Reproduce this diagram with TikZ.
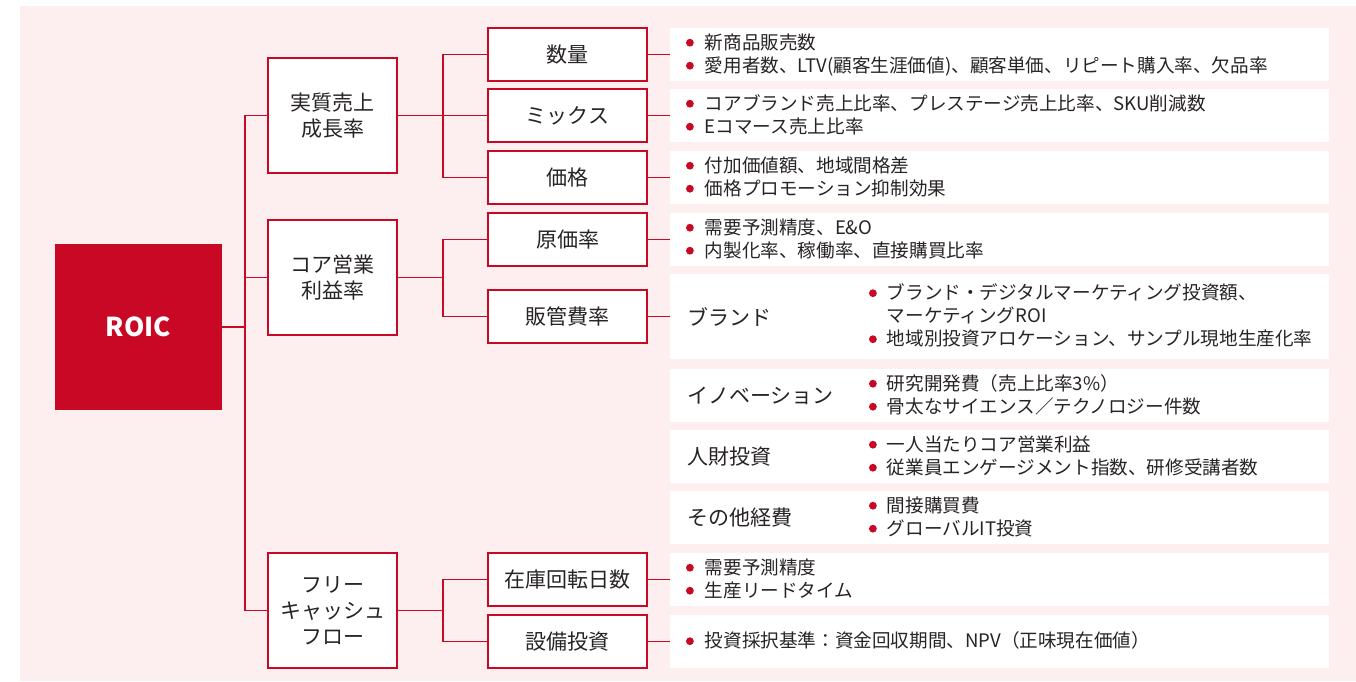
\documentclass[tikz,border=0pt]{standalone}
\usepackage{fontspec}
\setmainfont{Noto Sans CJK JP}
\usepackage{xcolor}
\usetikzlibrary{positioning,calc}
\definecolor{roicred}{RGB}{200,8,36}
\definecolor{bgpink}{RGB}{253,239,240}
\definecolor{ink}{RGB}{40,36,36}
\newcommand{\rbul}{\raisebox{2.5pt}{\tikz\fill[roicred] (0,0) circle (3.9pt);}}

\begin{document}
\begin{tikzpicture}[x=1pt, y=-1pt,
    lvlone/.style={draw=roicred, line width=1.4pt, fill=white, text=ink,
                   minimum width=129pt, minimum height=115pt, inner sep=0pt,
                   align=center, font=\fontsize{21}{26}\selectfont},
    lvltwo/.style={draw=roicred, line width=1.4pt, fill=white, text=ink,
                   minimum width=159pt, minimum height=53pt, inner sep=0pt,
                   font=\fontsize{21}{26}\selectfont},
    panel/.style={fill=white, minimum width=659pt, inner sep=0pt},
    items/.style={anchor=west, inner sep=0pt, text=ink, align=left, yshift=-1.5pt,
                  font=\fontsize{18.6}{23}\selectfont},
    tag/.style={anchor=west, inner sep=0pt, text=ink,
                font=\fontsize{21}{26}\selectfont},
    link/.style={draw=roicred, line width=1.4pt}]

    \useasboundingbox (0,0) rectangle (1356,681);
    \fill[bgpink] (20,6) rectangle (1356,681);

    % root
    \node[fill=roicred, minimum width=167pt, minimum height=166pt, inner sep=0pt,
          text=white, font=\fontsize{26}{30}\selectfont\bfseries] (roic) at (138.5,327) {ROIC};

    % first level
    \node[lvlone] (sales) at (332.5,115.5) {実質売上\\成長率};
    \node[lvlone] (core) at (332.5,277.5) {コア営業\\利益率};
    \node[lvlone] (fcf) at (332.5,610.5) {フリー\\キャッシュ\\フロー};
    \coordinate (jA) at (245,327);
    \draw[link] (roic.east) -- (jA);
    \draw[link] (sales.west) -| (jA) |- (fcf.west);
    \draw[link] (jA |- core.west) -- (core.west);

    % second level
    \node[lvltwo] (qty) at (567.5,54.5) {数量};
    \node[lvltwo] (mix) at (567.5,115.5) {ミックス};
    \node[lvltwo] (price) at (567.5,177.5) {価格};
    \node[lvltwo] (cost) at (567.5,239.5) {原価率};
    \node[lvltwo] (sga) at (567.5,316.5) {販管費率};
    \node[lvltwo] (stock) at (567.5,579.5) {在庫回転日数};
    \node[lvltwo] (capex) at (567.5,641.5) {設備投資};
    \coordinate (jB) at (443,115.5);
    \coordinate (jC) at (443,277.5);
    \coordinate (jD) at (443,610.5);
    \draw[link] (sales.east) -- (mix.west);
    \draw[link] (qty.west) -| (jB) |- (price.west);
    \draw[link] (core.east) -- (jC);
    \draw[link] (cost.west) -| (jC) |- (sga.west);
    \draw[link] (fcf.east) -- (jD);
    \draw[link] (stock.west) -| (jD) |- (capex.west);

    % indicator panels
    \node[panel, minimum height=53pt] (pnl1) at (999.5,54.5) {};
    \node[panel, minimum height=53pt] (pnl2) at (999.5,115.5) {};
    \node[panel, minimum height=53pt] (pnl3) at (999.5,177.5) {};
    \node[panel, minimum height=53pt] (pnl4) at (999.5,239.5) {};
    \node[panel, minimum height=85pt] (pnl5) at (999.5,316.5) {};
    \node[panel, minimum height=53pt] (pnl6) at (999.5,395.5) {};
    \node[panel, minimum height=53pt] (pnl7) at (999.5,456.5) {};
    \node[panel, minimum height=53pt] (pnl8) at (999.5,517.5) {};
    \node[panel, minimum height=53pt] (pnl9) at (999.5,579.5) {};
    \node[panel, minimum height=53pt] (pnl10) at (999.5,641.5) {};
    \draw[link] (qty.east) -- (pnl1.west);
    \draw[link] (mix.east) -- (pnl2.west);
    \draw[link] (price.east) -- (pnl3.west);
    \draw[link] (cost.east) -- (pnl4.west);
    \draw[link] (sga.east) -- (pnl5.west);
    \draw[link] (stock.east) -- (pnl9.west);
    \draw[link] (capex.east) -- (pnl10.west);

    \node[items, right=16pt of pnl1.west] (itm1) {\begin{tabular}{@{}l@{\hspace{11pt}}l@{}}
      \rbul & 新商品販売数\\
      \rbul & 愛用者数、LTV(顧客生涯価値)、顧客単価、リピート購入率、欠品率\end{tabular}};
    \node[items, right=16pt of pnl2.west] (itm2) {\begin{tabular}{@{}l@{\hspace{11pt}}l@{}}
      \rbul & コアブランド売上比率、プレステージ売上比率、SKU削減数\\
      \rbul & Eコマース売上比率\end{tabular}};
    \node[items, right=16pt of pnl3.west] (itm3) {\begin{tabular}{@{}l@{\hspace{11pt}}l@{}}
      \rbul & 付加価値額、地域間格差\\
      \rbul & 価格プロモーション抑制効果\end{tabular}};
    \node[items, right=16pt of pnl4.west] (itm4) {\begin{tabular}{@{}l@{\hspace{11pt}}l@{}}
      \rbul & 需要予測精度、E\&O\\
      \rbul & 内製化率、稼働率、直接購買比率\end{tabular}};

    % SG&A breakdown
    \node[tag, right=17pt of pnl5.west] (brand) {ブランド};
    \node[tag, right=17pt of pnl6.west] (innov) {イノベーション};
    \node[tag, right=17pt of pnl7.west] (people) {人財投資};
    \node[tag, right=17pt of pnl8.west] (other) {その他経費};
    \node[items, right=199pt of pnl5.west] (itm5) {\begin{tabular}{@{}l@{\hspace{10pt}}l@{}}
      \rbul & ブランド・デジタルマーケティング投資額、\\
            & マーケティングROI\\
      \rbul & 地域別投資アロケーション、サンプル現地生産化率\end{tabular}};
    \node[items, right=199pt of pnl6.west] (itm6) {\begin{tabular}{@{}l@{\hspace{10pt}}l@{}}
      \rbul & 研究開発費（売上比率3\%）\\
      \rbul & 骨太なサイエンス／テクノロジー件数\end{tabular}};
    \node[items, right=199pt of pnl7.west] (itm7) {\begin{tabular}{@{}l@{\hspace{10pt}}l@{}}
      \rbul & 一人当たりコア営業利益\\
      \rbul & 従業員エンゲージメント指数、研修受講者数\end{tabular}};
    \node[items, right=199pt of pnl8.west] (itm8) {\begin{tabular}{@{}l@{\hspace{10pt}}l@{}}
      \rbul & 間接購買費\\
      \rbul & グローバルIT投資\end{tabular}};

    \node[items, right=16pt of pnl9.west] (itm9) {\begin{tabular}{@{}l@{\hspace{11pt}}l@{}}
      \rbul & 需要予測精度\\
      \rbul & 生産リードタイム\end{tabular}};
    \node[items, right=16pt of pnl10.west] (itm10) {\begin{tabular}{@{}l@{\hspace{11pt}}l@{}}
      \rbul & 投資採択基準：資金回収期間、NPV（正味現在価値）\end{tabular}};
  \end{tikzpicture}
\end{document}
